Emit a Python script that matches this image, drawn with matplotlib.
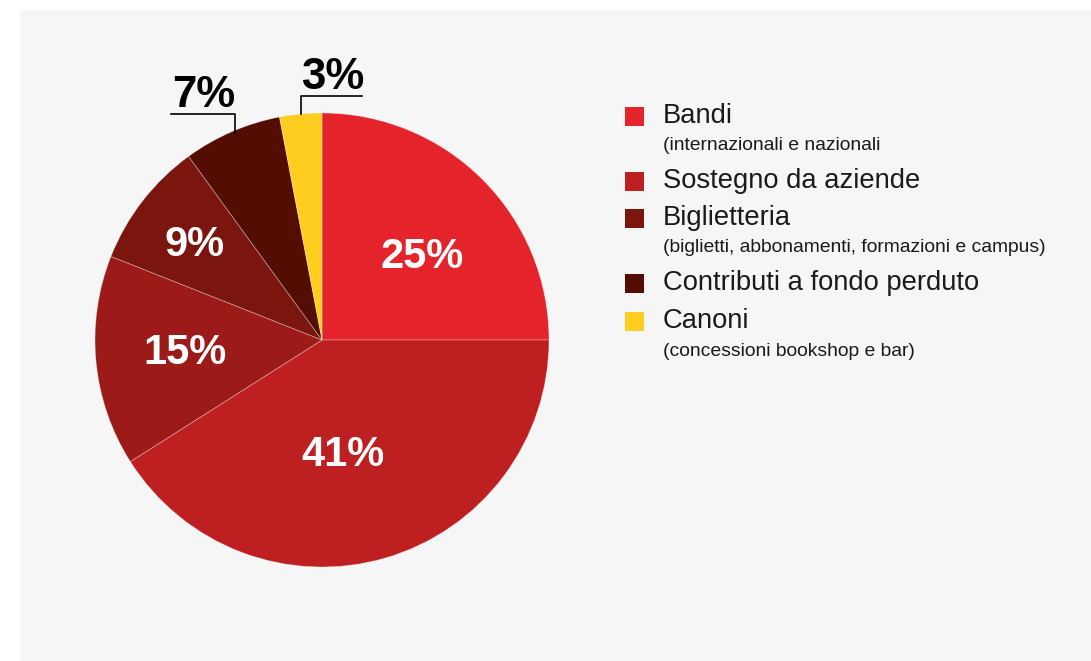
import numpy as np
import matplotlib
matplotlib.use("Agg")
import matplotlib.pyplot as plt
import matplotlib.patches as patches

plt.rcParams["font.family"] = ["Liberation Sans", "DejaVu Sans"]

# Revenue shares, clockwise from 12 o'clock
SHARES = [25, 41, 15, 9, 7, 3]
SLICE_COLORS = ["#e5232a", "#be1f21", "#9c1b18", "#7b160e", "#540d02", "#fecd1f"]
# inside labels: centre offset from the pie centre in px (x right, y down); None = outside
LABEL_OFFSETS = [(100, -86.5), (21.5, 111.5), (-137, 9), (-127, -99), None, None]

LEGEND_NAMES = ["Bandi", "Sostegno da aziende", "Biglietteria",
                "Contributi a fondo perduto", "Canoni"]
LEGEND_NOTES = ["(internazionali e nazionali", "",
                "(biglietti, abbonamenti, formazioni e campus)", "",
                "(concessioni bookshop e bar)"]
LEGEND_COLORS = ["#e5232a", "#be1f21", "#7b160e", "#540d02", "#fecd1f"]

BG = "#f6f6f6"
W, H = 1091, 661

fig = plt.figure(figsize=(W / 100, H / 100), dpi=100, facecolor="white")
ax = fig.add_axes([0, 0, 1, 1])

# light panel behind everything
ax.add_patch(patches.Rectangle((20, 0), W - 20, H - 10, facecolor=BG,
                               edgecolor="none", zorder=0))

cx, cy, R = 322, H - 340, 227
wedges, _ = ax.pie(SHARES, colors=SLICE_COLORS, startangle=90, counterclock=False,
                   center=(cx, cy), radius=R, frame=True,
                   wedgeprops=dict(edgecolor=(1, 1, 1, 0.35), linewidth=0.6))
ax.set_xlim(0, W)
ax.set_ylim(0, H)
ax.set_aspect("equal")
ax.axis("off")

IN_SIZE, OUT_SIZE = 30, 31.5
for w, share, off in zip(wedges, SHARES, LABEL_OFFSETS):
    if off is not None:
        cap = 0.716 * IN_SIZE * 100 / 72
        ax.text(cx + off[0], cy - off[1] - cap / 2, f"{share}%",
                color="white", fontsize=IN_SIZE, fontweight="bold",
                ha="center", va="baseline", zorder=5)
        continue
    # small slices: leader line from the rim up to a short shelf with the value
    mid = np.deg2rad((w.theta1 + w.theta2) / 2)
    ex, ey = cx + R * np.cos(mid), cy + R * np.sin(mid)
    shelf = ey + 18
    if share == 7:
        ex += 3
        ax.plot([ex, ex, ex - 64], [ey - 2, shelf, shelf], color="black", lw=1.2, zorder=5)
        ax.text(ex - 63, shelf + 7, f"{share}%", fontsize=OUT_SIZE, fontweight="bold",
                ha="left", va="baseline", color="black")
    else:
        ax.plot([ex, ex, ex + 61], [ey, shelf, shelf], color="black", lw=1.2, zorder=5)
        ax.text(ex, shelf + 7, f"{share}%", fontsize=OUT_SIZE, fontweight="bold",
                ha="left", va="baseline", color="black")

# legend
row_y = [116, 181, 218, 283, 321]
for y, name, note, col in zip(row_y, LEGEND_NAMES, LEGEND_NOTES, LEGEND_COLORS):
    ax.add_patch(patches.Rectangle((625, H - y - 9.5), 19, 19, facecolor=col,
                                   edgecolor="none", zorder=5))
    ax.text(663, H - y, name, fontsize=19.7, va="center", ha="left", color="#1a1a1a")
    if note:
        ax.text(663, H - y - 30, note, fontsize=13.9, va="center", ha="left",
                color="#1a1a1a")

fig.savefig("out.png", dpi=100, facecolor="white")
